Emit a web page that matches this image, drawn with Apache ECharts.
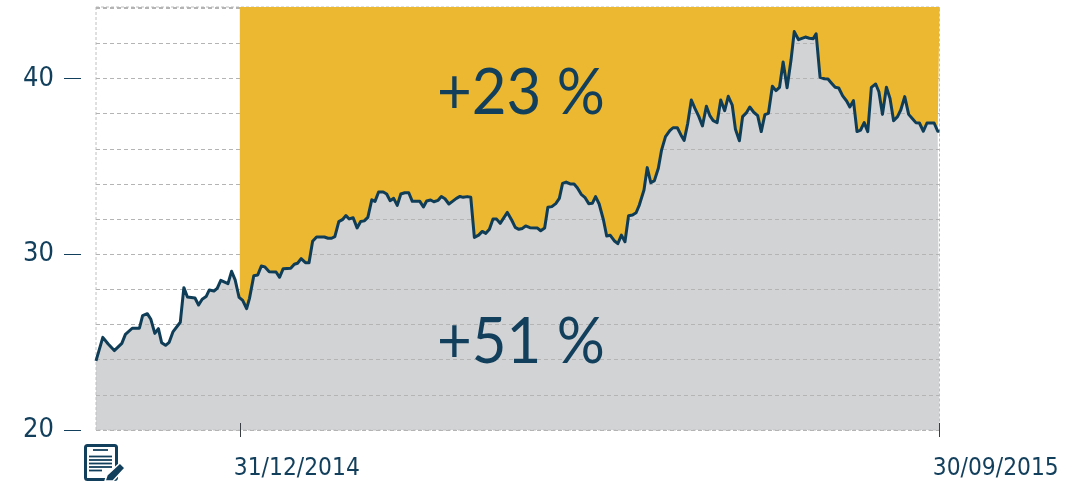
<!DOCTYPE html>
<html>
<head>
<meta charset="utf-8">
<style>html,body{margin:0;padding:0;background:#fff}#c{width:1082px;height:481px}</style>
<script src="https://cdn.jsdelivr.net/npm/echarts@6/dist/echarts.min.js"></script>
</head>
<body>
<div id="c"></div>
<script>
const sessions = [0,1.9,3.4,5.1,7.2,8.2,10.1,12.1,13,14.3,15.3,16.4,17.4,18.3,19.4,20.4,21.5,23.5,24.5,25.5,27.6,28.6,29.6,30.7,31.6,32.9,33.8,34.8,36.8,37.8,38.8,39.9,40.1,40.9,42,42.8,44,45.1,46.1,47.1,48.3,50.2,51.2,52.2,54.3,55.3,56.2,57.2,58.4,59.4,60.4,61.5,63.7,64.7,65.7,66.6,67.7,68.7,69.7,70.6,71.7,72.8,73.8,74.8,75.8,76.9,77.8,78.8,80.1,81.05,82,83,84,85,86.1,87.2,88.2,90.3,91.3,92.2,93.3,94.2,95.4,96.3,97.3,98.4,99.4,100.5,101.5,102.4,103.5,104.5,105.5,106.7,107.7,108.7,109.7,110.7,111.7,112.7,114.7,115.9,116.9,117.9,118.9,119.8,121,123.1,124,125.1,126,127.1,128.2,129.2,130.1,131.1,132.2,133.3,134.2,135.3,136.3,137.4,138.4,139.3,140.3,141.5,142.4,143.4,144.5,145.5,146.5,147.5,148.5,149.6,150.6,151.5,152.8,153.7,154.7,155.7,156.8,157.7,158.8,160,160.9,162.1,163.1,164,165,166,167,168.1,169.1,170.2,171.2,172.1,173.2,174.2,175.3,176.3,177.4,178.3,179.4,180.3,181.4,182.3,183.4,184.5,185.5,186.5,187.5,188.6,189.6,190.6,191.6,192.7,193.8,194.7,195.9,197.8,198.9,200,200.8,201.9,203.1,204.1,205.1,206.1,207.1,208.2,209.3,210.2,211.2,212.2,213.2,214.2,215.2,216.2,217.4,218.3,219.3,220.4,221.4,222.4,223.5,224.4,225.5,226.6,227.6,228.6,229.6,230.7,231.7,233.7,234.7,235.2];
const prices = [23.93,25.27,24.89,24.52,24.93,25.44,25.79,25.79,26.51,26.62,26.3,25.5,25.77,24.97,24.82,24.99,25.6,26.13,28.1,27.57,27.51,27.11,27.44,27.59,27.97,27.91,28.06,28.52,28.33,29.03,28.54,27.55,27.52,27.38,26.91,27.49,28.78,28.82,29.33,29.28,29.01,28.99,28.69,29.18,29.2,29.43,29.49,29.75,29.52,29.52,30.74,30.98,30.98,30.91,30.91,31,31.86,31.97,32.2,32.01,32.08,31.5,31.86,31.9,32.1,33.1,33.01,33.54,33.54,33.43,33.05,33.18,32.78,33.43,33.5,33.5,33.01,33.01,32.69,33.03,33.09,32.99,33.07,33.29,33.16,32.86,33.01,33.18,33.29,33.24,33.28,33.24,30.96,31.09,31.3,31.19,31.42,32,32,31.76,32.38,31.95,31.53,31.42,31.47,31.61,31.51,31.49,31.34,31.49,32.67,32.71,32.88,33.18,34.03,34.11,34,34,33.79,33.41,33.24,32.88,32.9,33.28,32.86,31.95,31.04,31.08,30.77,30.6,31.09,30.71,32.19,32.23,32.36,32.8,33.66,34.93,34.07,34.19,34.89,35.93,36.69,37.03,37.2,37.2,36.79,36.48,37.45,38.78,38.3,37.83,37.3,38.42,37.87,37.6,37.49,38.78,38.17,38.99,38.49,37.11,36.46,37.83,38.06,38.38,38.08,37.89,36.98,37.94,38.02,39.56,39.31,39.5,40.94,39.48,41.05,42.67,42.21,42.36,42.29,42.27,42.54,40.07,39.99,39.97,39.73,39.5,39.46,39.01,38.72,38.38,38.74,36.98,37.07,37.49,36.98,39.5,39.69,39.25,37.96,39.5,38.87,37.6,37.83,38.21,38.97,37.96,37.73,37.49,37.47,37,37.47,37.47,37,37];
const yTicks = [20,30,40];
const dateTicks = [40.1,235.0];
const dateLabels = ['31/12/2014','30/09/2015'];
const gainLabels = ['+23 %','+51 %'];
const SPLIT = 40.1;

const INK = '#123f5c', GOLD = '#ecb731', GREY = '#d1d3d5', FONT = '"DejaVu Sans Condensed", "DejaVu Sans", sans-serif';
const all = sessions.map((s,i)=>[s,prices[i]]);
const lineBase = {type:'line',data:all,showSymbol:false,silent:true,animation:false,sampling:false,smooth:false};
const recent = all.filter(p=>p[0]>=SPLIT);

const pencil = [[105,481],[107,475],[120,463],[125,468],[113,481]];
const docLines = [[93,108,450],[89,112,456.5],[89,112,460],[89,112,463.5],[89,112,467],[89,102,470.5]];

const chart = echarts.init(document.getElementById('c'),null,{renderer:'canvas'});
chart.setOption({
  animation:false,
  grid:{show:true,left:96,right:142.5,top:7,bottom:51,backgroundColor:'transparent',borderColor:'#c0c0c0',borderWidth:1,borderType:[3,2]},
  xAxis:{type:'value',min:0,max:235.2,offset:-7,
    axisLine:{show:false},splitLine:{show:false},
    axisTick:{show:true,length:14,lineStyle:{color:'#3a3f45',width:1},customValues:dateTicks},
    axisLabel:{show:true,customValues:dateTicks,showMaxLabel:true,showMinLabel:true,hideOverlap:false,
      margin:34,align:'left',padding:[0,0,0,-6],color:INK,fontFamily:FONT,fontSize:24.3,
      formatter:v=>dateLabels[dateTicks.indexOf(v)]}},
  yAxis:[
    {type:'value',min:20,max:44.07,interval:2,
      axisLine:{show:false},axisTick:{show:false},axisLabel:{show:false},
      splitLine:{show:true,lineStyle:{color:'#b4b4b4',width:1,type:[4,3]}}},
    {type:'value',position:'left',min:20,max:44.07,interval:10,offset:15,
      axisLine:{show:false},splitLine:{show:false},
      axisTick:{show:true,length:17,lineStyle:{color:INK,width:1},customValues:yTicks},
      axisLabel:{customValues:yTicks,margin:27,color:INK,fontFamily:FONT,fontSize:27}}
  ],
  series:[
    Object.assign({},lineBase,{z:-1,lineStyle:{width:0},areaStyle:{color:GREY,opacity:1,origin:'start'}}),
    Object.assign({},lineBase,{data:recent,z:2,lineStyle:{width:0},areaStyle:{color:GOLD,opacity:1,origin:'end'}}),
    Object.assign({},lineBase,{z:3,lineStyle:{color:'#0f3d58',width:3,join:'round'}})
  ],
  graphic:[
    {type:'text',z:5,x:437,y:62,scaleY:1.06,style:{text:gainLabels[0],fill:INK,font:'60px Lato, sans-serif'}},
    {type:'text',z:5,x:437,y:311,scaleY:1.06,style:{text:gainLabels[1],fill:INK,font:'60px Lato, sans-serif'}},
    {type:'rect',z:5,shape:{x:85.5,y:445.5,width:31,height:34,r:2},style:{fill:'#fff',stroke:INK,lineWidth:3}},
    ...docLines.map(l=>({type:'line',z:5,shape:{x1:l[0],y1:l[2],x2:l[1],y2:l[2]},style:{stroke:INK,lineWidth:1.8}})),
    {type:'polygon',z:6,shape:{points:pencil},style:{fill:INK,stroke:'#fff',lineWidth:1.5}}
  ]
});
</script>
</body>
</html>
